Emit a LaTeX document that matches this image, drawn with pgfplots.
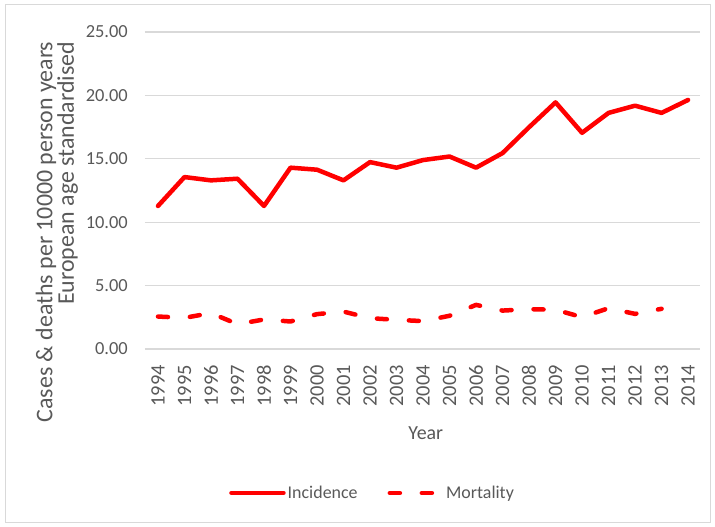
\documentclass[border=0pt]{standalone}
\usepackage{pgfplots}
\pgfplotsset{compat=1.18}
\usepackage{fontspec}
\setmainfont{Carlito}
\definecolor{txt}{HTML}{595959}
\definecolor{grid}{HTML}{D9D9D9}
\definecolor{xred}{HTML}{FF0000}
\begin{document}
\begin{tikzpicture}
\begin{axis}[
  scale only axis,
  width=555bp, height=317bp,
  xmin=1993.51, xmax=2014.45,
  ymin=0, ymax=25,
  ytick={0,5,10,15,20,25},
  xtick={1994,1995,...,2014},
  axis line style={draw=none},
  tick style={draw=none},
  ymajorgrids,
  major grid style={draw=grid, line width=1.2bp},
  /pgf/number format/assume math mode=true,
  yticklabel style={/pgf/number format/.cd, fixed, fixed zerofill, precision=2, /tikz/.cd,
    font=\fontsize{18.5}{21}\selectfont, text=txt, inner sep=0pt, anchor=east, xshift=-17bp},
  xticklabel style={/pgf/number format/1000 sep={}, rotate=90, anchor=east,
    font=\fontsize{20.5}{22}\selectfont, text=txt, inner sep=0pt, xshift=-16bp},
  xlabel={Year},
  xlabel style={at={(rel axis cs:0.506,-0.265)}, anchor=center, font=\fontsize{20}{23}\selectfont, text=txt},
  ylabel={Cases \& deaths per 10000 person years\\European age standardised},
  ylabel style={at={(rel axis cs:-0.1586,0.369)}, anchor=center, align=right,
    font=\fontsize{24}{20}\selectfont, text=txt},
  legend columns=2,
  legend style={draw=none, fill=none, at={(rel axis cs:0.41,-0.454)}, anchor=center,
    font=\fontsize{18}{21}\selectfont, text=txt,
    /tikz/every even column/.append style={column sep=28bp}},
  legend image code/.code={\draw[#1] (0bp,0bp) -- (52bp,0bp);},
  clip=false,
]
\addplot[xred, line width=4.5bp, line join=round, line cap=round] coordinates {
(1994,11.28) (1995,13.56) (1996,13.30) (1997,13.43) (1998,11.28) (1999,14.30)
(2000,14.14) (2001,13.30) (2002,14.74) (2003,14.30) (2004,14.90) (2005,15.18)
(2006,14.30) (2007,15.45) (2008,17.49) (2009,19.45) (2010,17.05) (2011,18.62)
(2012,19.19) (2013,18.62) (2014,19.64)};
\addlegendentry{Incidence}
\addplot[xred, line width=4.5bp, line join=round, line cap=round, dash pattern=on 10bp off 22bp] coordinates {
(1994,2.56) (1995,2.46) (1996,2.83) (1997,1.96) (1998,2.33) (1999,2.17)
(2000,2.75) (2001,2.95) (2002,2.43) (2003,2.30) (2004,2.20) (2005,2.62)
(2006,3.48) (2007,3.03) (2008,3.14) (2009,3.10) (2010,2.51) (2011,3.22)
(2012,2.77) (2013,3.17)};
\addlegendentry{Mortality}
\coordinate (BL) at (rel axis cs:-0.26126,-0.56151);
\coordinate (TR) at (rel axis cs:1.02703,1.10095);
\coordinate (FBL) at (rel axis cs:-0.25225,-0.54574);
\coordinate (FTR) at (rel axis cs:1.01802,1.08517);
\end{axis}
\draw[draw=grid, line width=1bp] (FBL) rectangle (FTR);
\pgfresetboundingbox
\path[use as bounding box] (BL) rectangle (TR);
\end{tikzpicture}
\end{document}
